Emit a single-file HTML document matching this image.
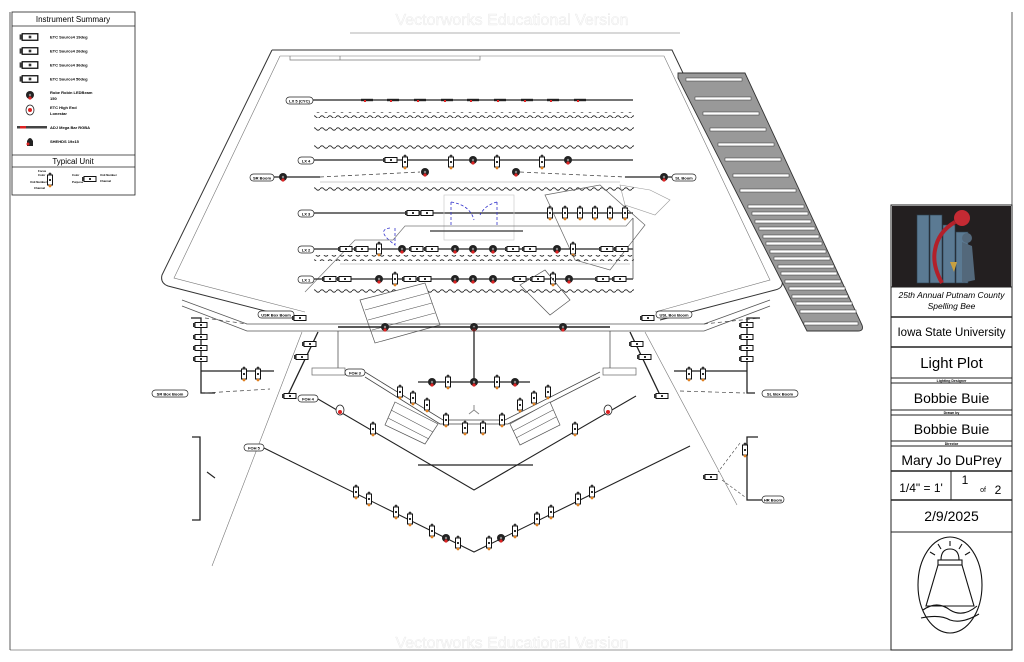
<!DOCTYPE html>
<html><head><meta charset="utf-8"><style>
html,body{margin:0;padding:0;background:#fff;}
svg{display:block;font-family:"Liberation Sans",sans-serif;}
.t{font-size:4px;font-weight:bold}
</style></head><body>
<svg width="1024" height="662" viewBox="0 0 1024 662" xmlns="http://www.w3.org/2000/svg">
<defs>
<pattern id="wv" width="8" height="6" patternUnits="userSpaceOnUse">
<path d="M0,3 Q2,0.5 4,3 T8,3" fill="none" stroke="#333" stroke-width="1"/>
</pattern>
<g id="u"><rect x="-2.5" y="-5" width="5" height="10" fill="#fff" stroke="#111" stroke-width="1"/><circle cx="0" cy="-6" r="1.4" fill="#333"/><circle cx="0" cy="6" r="1.4" fill="#e08020"/><rect x="-1" y="-1" width="2" height="2" fill="#333"/></g>
<g id="h"><rect x="-6" y="-2.5" width="12" height="5" fill="#fff" stroke="#111" stroke-width="1"/><rect x="-8" y="-2" width="2" height="4" fill="#333"/><rect x="-1" y="-1" width="2" height="2" fill="#333"/></g>
<g id="m"><circle r="4" fill="#222"/><circle cx="0" cy="3" r="1.6" fill="#d22"/><circle r="1.2" fill="#888"/></g>
<g id="b"><rect x="-6" y="-1.2" width="12" height="2.4" fill="#222"/><rect x="-3" y="0" width="2" height="2" fill="#d22"/></g>
</defs>

<line x1="10" y1="12" x2="10" y2="650" stroke="#333" stroke-width="0.8"/>
<line x1="10" y1="650" x2="1012" y2="650" stroke="#333" stroke-width="0.6"/>
<line x1="1012" y1="12" x2="1012" y2="650" stroke="#333" stroke-width="0.8"/>

<text x="512" y="25" font-size="16" fill="#fafafa" stroke="#e2e2e2" stroke-width="0.3" text-anchor="middle">Vectorworks Educational Version</text>
<text x="512" y="648" font-size="16" fill="#fafafa" stroke="#e2e2e2" stroke-width="0.3" text-anchor="middle">Vectorworks Educational Version</text>
<line x1="350" y1="33" x2="680" y2="33" stroke="#999" stroke-width="0.8"/>

<rect x="12" y="12" width="123" height="183" fill="#fff" stroke="#222" stroke-width="0.8"/>
<line x1="12" y1="26" x2="135" y2="26" stroke="#222" stroke-width="0.8"/>
<text x="73" y="22" font-size="8" text-anchor="middle">Instrument Summary</text>
<g class="t">
<use href="#h" x="30" y="37" transform="translate(-9,-11.1) scale(1.3)"/><text x="50" y="38.5">ETC Source4 19deg</text>
<use href="#h" x="30" y="51" transform="translate(-9,-15.3) scale(1.3)"/><text x="50" y="52.5">ETC Source4 26deg</text>
<use href="#h" x="30" y="65" transform="translate(-9,-19.5) scale(1.3)"/><text x="50" y="66.5">ETC Source4 36deg</text>
<use href="#h" x="30" y="79" transform="translate(-9,-23.7) scale(1.3)"/><text x="50" y="80.5">ETC Source4 50deg</text>
<use href="#m" x="30" y="95"/><text x="50" y="94">Robe Robin LEDBeam</text><text x="50" y="100">150</text>
<g transform="translate(30,110)"><ellipse rx="4" ry="5" fill="#fff" stroke="#222" stroke-width="0.8"/><circle r="2" fill="#d22"/></g><text x="50" y="109">ETC High End</text><text x="50" y="115">Lonestar</text>
<rect x="17" y="126" width="30" height="2.5" fill="#444"/><rect x="20" y="126" width="6" height="2.5" fill="#d22"/><text x="50" y="129">ADJ Mega Bar RGBA</text>
<g transform="translate(30,142)"><path d="M-3,4 L-3,-1 Q0,-7 3,-1 L3,4Z" fill="#222"/><circle cx="-2" cy="2" r="1.5" fill="#d22"/></g><text x="50" y="143">SHEHDS 19x15</text>
</g>
<line x1="12" y1="155" x2="135" y2="155" stroke="#222" stroke-width="0.8"/>
<line x1="12" y1="167" x2="135" y2="167" stroke="#222" stroke-width="0.8"/>
<text x="73" y="164" font-size="8" text-anchor="middle">Typical Unit</text>
<use href="#u" x="50" y="180"/><use href="#h" x="90" y="179"/>
<g font-size="2.8" font-weight="bold"><text x="38" y="172">Focus</text><text x="38" y="176">Color</text><text x="30" y="183">Unit Number</text><text x="34" y="189">Channel</text><text x="72" y="176">Color</text><text x="72" y="183">Purpose</text><text x="100" y="176">Unit Number</text><text x="100" y="182">Channel</text></g>

<path d="M272,50 L672,50 L782,280 Q784,288 775,290 L660,320 M272,50 L162,275 Q160,283 168,286 L300,320" fill="none" stroke="#333" stroke-width="1"/>
<path d="M280,56 L664,56 L770,280 L655,312 M280,56 L174,278 L305,312" fill="none" stroke="#777" stroke-width="0.6"/>
<path d="M290,56 L290,60 L340,60 L340,56 M340,60 L480,60 L480,56" fill="none" stroke="#777" stroke-width="0.7"/>

<path d="M678,73 L745,73 L862,325 Q864,331 858,331 L807,331 L678,78Z" fill="#999" stroke="#333" stroke-width="0.9"/>
<g fill="#fff" stroke="#333" stroke-width="0.5">
<rect x="686" y="78" width="56" height="3"/>
<rect x="695" y="97" width="56" height="3"/>
<rect x="703" y="112" width="56" height="3"/>
<rect x="710" y="128" width="56" height="3"/>
<rect x="718" y="143" width="56" height="3"/>
<rect x="725" y="158" width="56" height="3"/>
<rect x="733" y="174" width="56" height="3"/>
<rect x="740" y="189" width="56" height="3"/>
<rect x="748" y="205" width="56" height="3"/>
<rect x="752" y="212" width="56" height="3"/>
<rect x="755" y="220" width="56" height="3"/>
<rect x="759" y="227" width="56" height="3"/>
<rect x="763" y="235" width="56" height="3"/>
<rect x="766" y="242" width="56" height="3"/>
<rect x="770" y="250" width="56" height="3"/>
<rect x="774" y="257" width="56" height="3"/>
<rect x="778" y="265" width="56" height="3"/>
<rect x="781" y="272" width="56" height="3"/>
<rect x="785" y="280" width="56" height="3"/>
<rect x="789" y="287" width="56" height="3"/>
<rect x="792" y="295" width="56" height="3"/>
<rect x="796" y="302" width="56" height="3"/>
<rect x="800" y="310" width="56" height="3"/>
<rect x="804" y="322" width="54" height="3"/>
</g>

<rect x="286" y="97" width="27" height="7" rx="3.5" fill="#fff" stroke="#222" stroke-width="0.7"/><text x="299.5" y="102.3" class="t" text-anchor="middle">LX 5 (CYC)</text>
<line x1="313" y1="100" x2="633" y2="100" stroke="#222" stroke-width="1.3"/>
<use href="#b" x="367" y="100"/><use href="#b" x="393" y="100"/><use href="#b" x="420" y="100"/><use href="#b" x="447" y="100"/><use href="#b" x="473" y="100"/><use href="#b" x="500" y="100"/><use href="#b" x="527" y="100"/><use href="#b" x="553" y="100"/><use href="#b" x="580" y="100"/>
<rect x="314" y="112" width="320" height="6" fill="url(#wv)"/>
<rect x="314" y="126" width="320" height="6" fill="url(#wv)"/>
<rect x="314" y="144" width="320" height="6" fill="url(#wv)"/>

<rect x="298" y="157" width="16" height="7" rx="3.5" fill="#fff" stroke="#222" stroke-width="0.7"/><text x="306" y="162.3" class="t" text-anchor="middle">LX 4</text>
<line x1="314" y1="160" x2="633" y2="160" stroke="#222" stroke-width="1.3"/>
<rect x="250" y="174" width="24" height="7" rx="3.5" fill="#fff" stroke="#222" stroke-width="0.7"/><text x="262" y="179.3" class="t" text-anchor="middle">SR Boom</text>
<line x1="274" y1="177" x2="320" y2="177" stroke="#222" stroke-width="1.3"/>
<line x1="320" y1="177" x2="420" y2="172" stroke="#333" stroke-width="0.7" stroke-dasharray="4,3"/>
<line x1="520" y1="172" x2="625" y2="177" stroke="#333" stroke-width="0.7" stroke-dasharray="4,3"/>
<line x1="625" y1="177" x2="672" y2="177" stroke="#222" stroke-width="1.3"/>
<rect x="672" y="174" width="24" height="7" rx="3.5" fill="#fff" stroke="#222" stroke-width="0.7"/><text x="684" y="179.3" class="t" text-anchor="middle">SL Boom</text>
<use href="#m" x="283" y="177"/><use href="#m" x="664" y="177"/>
<use href="#h" x="391" y="160"/><use href="#u" x="405" y="162"/><use href="#u" x="451" y="162"/><use href="#m" x="473" y="160"/><use href="#u" x="497" y="162"/><use href="#u" x="542" y="162"/><use href="#m" x="568" y="160"/>
<use href="#m" x="425" y="172"/><use href="#m" x="516" y="172"/>
<line x1="320" y1="182" x2="620" y2="182" stroke="#999" stroke-width="0.5"/>
<rect x="314" y="187" width="320" height="6" fill="url(#wv)"/>

<rect x="298" y="210" width="16" height="7" rx="3.5" fill="#fff" stroke="#222" stroke-width="0.7"/><text x="306" y="215.3" class="t" text-anchor="middle">LX 3</text>
<line x1="314" y1="213" x2="633" y2="213" stroke="#222" stroke-width="1.3"/>
<rect x="444" y="195" width="70" height="45" fill="none" stroke="#ccc" stroke-width="0.7"/>
<path d="M451,202 L451,225 M451,202 Q470,205 474,220 M497,202 L497,225 M497,202 Q485,205 480,215 M395,228 L395,245 Q375,230 390,228" fill="none" stroke="#33c" stroke-width="0.8" stroke-dasharray="3,2"/>
<line x1="430" y1="231" x2="523" y2="231" stroke="#555" stroke-width="1.5"/>
<path d="M305,292 L355,240 L393,240 L405,226 L626,226 L633,218" fill="none" stroke="#777" stroke-width="0.7"/>
<use href="#h" x="413" y="213"/><use href="#h" x="427" y="213"/>
<use href="#u" x="550" y="213"/><use href="#u" x="565" y="213"/><use href="#u" x="580" y="213"/><use href="#u" x="595" y="213"/><use href="#u" x="610" y="213"/><use href="#u" x="625" y="213"/>
<path d="M545,195 L600,185 L645,225 L610,270 L575,260 Z" fill="none" stroke="#666" stroke-width="0.7"/>
<path d="M620,185 L650,190 L670,200 L655,215 L625,205Z" fill="none" stroke="#999" stroke-width="0.6"/>

<rect x="298" y="246" width="16" height="7" rx="3.5" fill="#fff" stroke="#222" stroke-width="0.7"/><text x="306" y="251.3" class="t" text-anchor="middle">LX 2</text>
<line x1="314" y1="249" x2="633" y2="249" stroke="#222" stroke-width="1.3"/>
<use href="#h" x="346" y="249"/><use href="#h" x="362" y="249"/><use href="#u" x="379" y="249"/><use href="#m" x="402" y="249"/><use href="#h" x="417" y="249"/><use href="#h" x="432" y="249"/><use href="#m" x="455" y="249"/><use href="#m" x="473" y="249"/><use href="#m" x="493" y="249"/><use href="#h" x="513" y="249"/><use href="#h" x="530" y="249"/><use href="#m" x="557" y="249"/><use href="#u" x="573" y="249"/><use href="#h" x="607" y="249"/><use href="#h" x="622" y="249"/>
<rect x="314" y="255" width="320" height="6" fill="url(#wv)"/>
<line x1="340" y1="264" x2="630" y2="264" stroke="#999" stroke-width="0.5"/>

<rect x="298" y="276" width="16" height="7" rx="3.5" fill="#fff" stroke="#222" stroke-width="0.7"/><text x="306" y="281.3" class="t" text-anchor="middle">LX 1</text>
<line x1="314" y1="279" x2="633" y2="279" stroke="#222" stroke-width="1.3"/>
<line x1="633" y1="218" x2="633" y2="279" stroke="#555" stroke-width="0.8"/>
<use href="#h" x="330" y="279"/><use href="#h" x="345" y="279"/><use href="#m" x="379" y="279"/><use href="#u" x="395" y="279"/><use href="#h" x="410" y="279"/><use href="#h" x="425" y="279"/><use href="#m" x="455" y="279"/><use href="#m" x="473" y="279"/><use href="#m" x="493" y="279"/><use href="#h" x="520" y="279"/><use href="#h" x="538" y="279"/><use href="#u" x="553" y="279"/><use href="#m" x="569" y="279"/><use href="#h" x="603" y="279"/><use href="#h" x="620" y="279"/>
<rect x="314" y="288" width="320" height="6" fill="url(#wv)"/>
<path d="M360,300 L425,283 L440,325 L375,343Z" fill="#fff" stroke="#555" stroke-width="0.7"/>
<path d="M365,310 L428,293 M368,320 L432,303 M372,330 L435,313" stroke="#555" stroke-width="0.6"/>
<path d="M520,285 L545,270 L570,300 L550,315Z" fill="none" stroke="#555" stroke-width="0.7"/>

<path d="M182,300 L247,324 L704,324 L770,300" fill="none" stroke="#555" stroke-width="0.8"/>
<path d="M182,306 L247,331 L704,331 L770,306" fill="none" stroke="#555" stroke-width="0.8"/>
<line x1="338" y1="327" x2="610" y2="327" stroke="#222" stroke-width="1.5"/>
<use href="#m" x="385" y="327"/><use href="#m" x="474" y="327"/><use href="#m" x="563" y="327"/>
<rect x="258" y="311" width="36" height="7" rx="3.5" fill="#fff" stroke="#222" stroke-width="0.7"/><text x="276" y="316.3" class="t" text-anchor="middle">USR Box Boom</text>
<rect x="656" y="311" width="36" height="7" rx="3.5" fill="#fff" stroke="#222" stroke-width="0.7"/><text x="674" y="316.3" class="t" text-anchor="middle">USL Box Boom</text>
<use href="#h" x="300" y="318"/><use href="#h" x="648" y="318"/>
<line x1="338" y1="331" x2="338" y2="370" stroke="#555" stroke-width="0.8"/>
<line x1="610" y1="331" x2="610" y2="370" stroke="#555" stroke-width="0.8"/>
<line x1="474" y1="327" x2="474" y2="382" stroke="#222" stroke-width="1.3"/>
<line x1="418" y1="382" x2="530" y2="382" stroke="#222" stroke-width="1.3"/>
<use href="#m" x="432" y="382"/><use href="#u" x="448" y="382"/><use href="#m" x="474" y="382"/><use href="#u" x="497" y="382"/><use href="#m" x="515" y="382"/>

<path d="M191,318 L201,318 L201,393 L215,393" fill="none" stroke="#222" stroke-width="1.3"/>
<line x1="201" y1="371" x2="274" y2="371" stroke="#222" stroke-width="1.3"/>
<use href="#h" x="201" y="325"/><use href="#h" x="201" y="337"/><use href="#h" x="201" y="348"/><use href="#h" x="201" y="359"/>
<use href="#u" x="244" y="374"/><use href="#u" x="258" y="374"/>
<line x1="205" y1="318" x2="247" y2="324" stroke="#444" stroke-width="0.7" stroke-dasharray="4,3"/>
<line x1="205" y1="393" x2="270" y2="389" stroke="#444" stroke-width="0.7" stroke-dasharray="4,3"/>
<rect x="152" y="390" width="36" height="7" rx="3.5" fill="#fff" stroke="#222" stroke-width="0.7"/><text x="170" y="395.3" class="t" text-anchor="middle">SR Box Boom</text>
<line x1="302" y1="332" x2="212" y2="566" stroke="#777" stroke-width="0.6"/>
<line x1="318" y1="332" x2="288" y2="395" stroke="#222" stroke-width="1.3"/>
<use href="#h" x="310" y="344"/><use href="#h" x="302" y="357"/><use href="#h" x="290" y="396"/>

<path d="M760,318 L747,318 L747,393 L755,393" fill="none" stroke="#222" stroke-width="1.3"/>
<line x1="674" y1="371" x2="747" y2="371" stroke="#222" stroke-width="1.3"/>
<use href="#h" x="747" y="325"/><use href="#h" x="747" y="337"/><use href="#h" x="747" y="348"/><use href="#h" x="747" y="359"/>
<use href="#u" x="689" y="374"/><use href="#u" x="703" y="374"/>
<line x1="680" y1="391" x2="745" y2="393" stroke="#444" stroke-width="0.7" stroke-dasharray="4,3"/>
<line x1="704" y1="324" x2="760" y2="318" stroke="#444" stroke-width="0.7" stroke-dasharray="4,3"/>
<rect x="762" y="390" width="36" height="7" rx="3.5" fill="#fff" stroke="#222" stroke-width="0.7"/><text x="780" y="395.3" class="t" text-anchor="middle">SL Box Boom</text>
<line x1="645" y1="332" x2="737" y2="505" stroke="#777" stroke-width="0.6"/>
<line x1="630" y1="332" x2="660" y2="395" stroke="#222" stroke-width="1.3"/>
<use href="#h" x="637" y="344"/><use href="#h" x="645" y="357"/><use href="#h" x="662" y="396"/>

<rect x="312" y="368" width="33" height="7" fill="#fff" stroke="#666" stroke-width="0.7"/>
<rect x="603" y="368" width="33" height="7" fill="#fff" stroke="#666" stroke-width="0.7"/>
<rect x="345" y="369" width="20" height="7" rx="3.5" fill="#fff" stroke="#222" stroke-width="0.7"/><text x="355" y="374.3" class="t" text-anchor="middle">FOH 3</text>
<path d="M365,372 L443,420 L505,420 L600,372" fill="none" stroke="#444" stroke-width="0.8"/>
<path d="M365,377 L440,424 L508,424 L600,377" fill="none" stroke="#444" stroke-width="0.8"/>
<use href="#u" x="400" y="392"/><use href="#u" x="413" y="398"/><use href="#u" x="427" y="405"/><use href="#u" x="446" y="420"/><use href="#u" x="465" y="428"/><use href="#u" x="483" y="428"/><use href="#u" x="502" y="420"/><use href="#u" x="520" y="405"/><use href="#u" x="534" y="398"/><use href="#u" x="548" y="392"/>
<path d="M474,405 L474,410 M474,410 L469,414 M474,410 L479,414" stroke="#888" stroke-width="1"/>
<path d="M395,402 L438,424 L425,444 L385,425Z" fill="#fff" stroke="#555" stroke-width="0.7"/>
<path d="M391,410 L433,432 M388,418 L429,439" stroke="#555" stroke-width="0.6"/>
<path d="M510,424 L550,402 L560,425 L520,445Z" fill="#fff" stroke="#555" stroke-width="0.7"/>
<path d="M513,431 L553,410 M516,438 L556,417" stroke="#555" stroke-width="0.6"/>

<rect x="298" y="395" width="20" height="7" rx="3.5" fill="#fff" stroke="#222" stroke-width="0.7"/><text x="308" y="400.3" class="t" text-anchor="middle">FOH 4</text>
<path d="M318,399 L474,490 L636,396" fill="none" stroke="#222" stroke-width="1.1"/>
<line x1="418" y1="465" x2="533" y2="465" stroke="#222" stroke-width="1.3"/>
<g transform="translate(340,410)"><ellipse rx="4" ry="5" fill="#fff" stroke="#222" stroke-width="0.8"/><circle cy="2" r="2" fill="#d22"/></g>
<g transform="translate(608,410)"><ellipse rx="4" ry="5" fill="#fff" stroke="#222" stroke-width="0.8"/><circle cy="2" r="2" fill="#d22"/></g>
<use href="#u" x="373" y="429"/><use href="#u" x="575" y="429"/>

<path d="M192,437 L200,437 L200,520 L192,520" fill="none" stroke="#222" stroke-width="1.3"/>
<line x1="207" y1="472" x2="215" y2="478" stroke="#222" stroke-width="1.1"/>
<rect x="244" y="444" width="20" height="7" rx="3.5" fill="#fff" stroke="#222" stroke-width="0.7"/><text x="254" y="449.3" class="t" text-anchor="middle">FOH 5</text>
<path d="M264,448 L474,552 L690,446" fill="none" stroke="#222" stroke-width="1.1"/>
<use href="#u" x="356" y="492"/><use href="#u" x="369" y="499"/><use href="#u" x="396" y="512"/><use href="#u" x="410" y="519"/><use href="#u" x="432" y="531"/><use href="#m" x="446" y="538"/><use href="#u" x="458" y="543"/><use href="#u" x="489" y="543"/><use href="#m" x="501" y="538"/><use href="#u" x="515" y="531"/><use href="#u" x="537" y="519"/><use href="#u" x="551" y="512"/><use href="#u" x="578" y="499"/><use href="#u" x="592" y="492"/>

<path d="M758,437 L747,437 L747,500 L762,500" fill="none" stroke="#222" stroke-width="1.3"/>
<use href="#u" x="745" y="450"/><use href="#h" x="711" y="477"/>
<line x1="740" y1="443" x2="718" y2="472" stroke="#444" stroke-width="0.6" stroke-dasharray="3,2"/>
<line x1="722" y1="480" x2="745" y2="497" stroke="#444" stroke-width="0.6" stroke-dasharray="3,2"/>
<rect x="762" y="496" width="22" height="7" rx="3.5" fill="#fff" stroke="#222" stroke-width="0.7"/><text x="773" y="501.3" class="t" text-anchor="middle">HR Boom</text>

<g stroke="#222" stroke-width="1" fill="none">
<rect x="891" y="205" width="121" height="445"/>
<line x1="891" y1="287" x2="1012" y2="287"/><line x1="891" y1="317" x2="1012" y2="317" stroke-width="1.5"/>
<line x1="891" y1="347" x2="1012" y2="347" stroke-width="1.5"/><line x1="891" y1="378" x2="1012" y2="378"/>
<line x1="891" y1="383" x2="1012" y2="383"/><line x1="891" y1="410" x2="1012" y2="410"/>
<line x1="891" y1="415" x2="1012" y2="415"/><line x1="891" y1="441" x2="1012" y2="441"/>
<line x1="891" y1="446" x2="1012" y2="446"/><line x1="891" y1="471" x2="1012" y2="471" stroke-width="1.5"/>
<line x1="891" y1="500" x2="1012" y2="500" stroke-width="1.5"/><line x1="951" y1="471" x2="951" y2="500"/>
<line x1="891" y1="532" x2="1012" y2="532"/>
</g>
<rect x="892" y="206" width="119" height="81" fill="#231f20"/>
<g fill="#5b7a93" stroke="#2b3d4d" stroke-width="0.6">
<rect x="917" y="215" width="12" height="68"/><rect x="930" y="215" width="12" height="68"/><rect x="943" y="225" width="12" height="58"/><rect x="956" y="232" width="12" height="51"/>
</g>
<path d="M955,222 Q938,232 935,250 Q932,265 942,283" fill="none" stroke="#b3202a" stroke-width="4"/>
<circle cx="962" cy="218" r="8" fill="#c42a33"/>
<path d="M962,242 L972,246 L975,280 L962,283Z" fill="#53687b"/>
<circle cx="967" cy="238" r="5" fill="#53687b"/>
<path d="M950,262 L957,262 L954,272Z" fill="#c8a040"/>
<text x="951.5" y="298" font-size="8.5" font-style="italic" text-anchor="middle">25th Annual Putnam County</text>
<text x="951.5" y="309" font-size="8.5" font-style="italic" text-anchor="middle">Spelling Bee</text>
<text x="951.5" y="336" font-size="11.5" text-anchor="middle">Iowa State University</text>
<text x="951.5" y="368" font-size="15" text-anchor="middle">Light Plot</text>
<text x="951.5" y="382" font-size="3.5" font-weight="bold" text-anchor="middle">Lighting Designer</text>
<text x="951.5" y="403" font-size="14" text-anchor="middle">Bobbie Buie</text>
<text x="951.5" y="414" font-size="3.5" font-weight="bold" text-anchor="middle">Drawn by</text>
<text x="951.5" y="434" font-size="14" text-anchor="middle">Bobbie Buie</text>
<text x="951.5" y="445" font-size="3.5" font-weight="bold" text-anchor="middle">Director</text>
<text x="951.5" y="465" font-size="14" text-anchor="middle">Mary Jo DuPrey</text>
<text x="921" y="492" font-size="12" text-anchor="middle">1/4" = 1'</text>
<text x="965" y="484" font-size="12" text-anchor="middle">1</text>
<text x="983" y="492" font-size="7" text-anchor="middle">of</text>
<text x="998" y="494" font-size="12" text-anchor="middle">2</text>
<text x="951.5" y="521" font-size="14" text-anchor="middle">2/9/2025</text>
<g fill="none" stroke="#111" stroke-width="1.1">
<ellipse cx="950" cy="585" rx="32" ry="48"/>
<path d="M941,560 Q941,549 950,549 Q959,549 959,560Z"/>
<rect x="938" y="560" width="24" height="5"/>
<path d="M938,565 L926,606 L974,606 L962,565"/>
<path d="M923,610 Q937,600 950,610 Q963,618 977,606 M921,618 Q940,614 950,620 Q962,624 979,614"/>
<path d="M950,541 L950,546 M938,544 L941,549 M962,544 L959,549 M930,552 L935,555 M970,552 L965,555"/>
</g>
</svg>
</body></html>
